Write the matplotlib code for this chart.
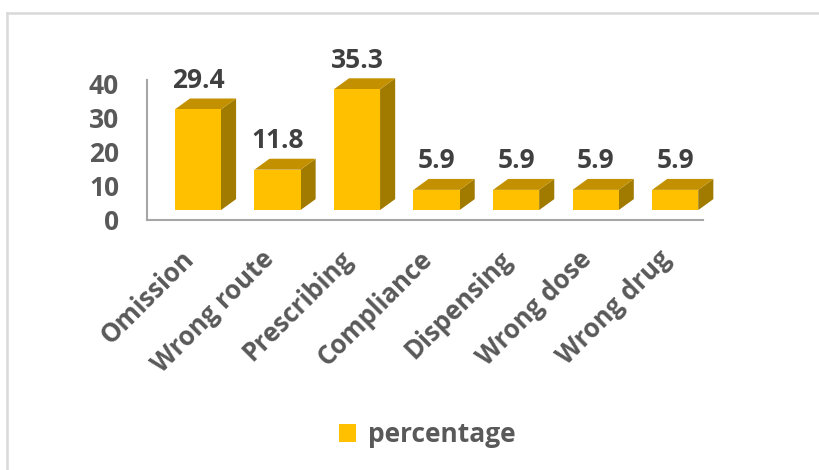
import matplotlib
matplotlib.use("Agg")
import matplotlib.pyplot as plt
from matplotlib.patches import Polygon, Rectangle
from matplotlib.lines import Line2D

plt.rcParams['font.family'] = ['Open Sans', 'DejaVu Sans']

categories = ["Omission", "Wrong route", "Prescribing", "Compliance",
              "Dispensing", "Wrong dose", "Wrong drug"]
percentage = [29.4, 11.8, 35.3, 5.9, 5.9, 5.9, 5.9]
y_ticks = [0, 10, 20, 30, 40]

front_col = "#FFC000"
top_col = "#C39100"
side_col = "#A17A00"

# pseudo-3D box geometry (data units)
bar_w = 0.58
depth_x = 0.19
depth_y = 3.2
floor = 2.9

fig = plt.figure(figsize=(8.2, 4.7), dpi=100)
ax = fig.add_axes([147 / 820, 250 / 470, 556 / 820, 140 / 470])
ax.set_xlim(-0.64, 6.35)
ax.set_ylim(0, 40.9)

for i, v in enumerate(percentage):
    x0 = i - bar_w / 2
    x1 = i + bar_w / 2
    y0 = floor
    y1 = floor + v
    ax.add_patch(Polygon([(x1, y0), (x1 + depth_x, y0 + depth_y),
                          (x1 + depth_x, y1 + depth_y), (x1, y1)],
                         closed=True, fc=side_col, ec="none", clip_on=False))
    ax.add_patch(Polygon([(x0, y1), (x1, y1), (x1 + depth_x, y1 + depth_y),
                          (x0 + depth_x, y1 + depth_y)],
                         closed=True, fc=top_col, ec="none", clip_on=False))
    ax.add_patch(Rectangle((x0, y0), bar_w, v, fc=front_col, ec="none", clip_on=False))
    ax.annotate(f"{v}", xy=(i, y1 + depth_y), xytext=(0, 13),
                textcoords="offset points", ha="center", va="center",
                fontsize=19, fontweight="bold", color="#404040",
                annotation_clip=False)

# category labels, rotated like the spreadsheet axis
for i, name in enumerate(categories):
    ax.text(i - 0.1, -0.25, name, transform=ax.get_xaxis_transform(),
            rotation=45, rotation_mode="anchor", ha="right", va="center",
            fontsize=18.5, fontweight="bold", color="#595959")

ax.set_xticks([])
ax.set_yticks(y_ticks)
ax.set_yticklabels([str(t) for t in y_ticks], fontsize=19, fontweight="bold",
                   color="#595959")
ax.tick_params(axis="y", length=0, pad=20)
for s in ["top", "right"]:
    ax.spines[s].set_visible(False)
for s in ["left", "bottom"]:
    ax.spines[s].set_color("#A6A6A6")
    ax.spines[s].set_linewidth(1.5)

# legend
handle = Rectangle((0, 0), 1, 1, fc=front_col, ec="none")
fig.legend([handle], ["percentage"], loc="center", bbox_to_anchor=(427 / 820, 1 - 435 / 470),
           frameon=False, prop={"size": 19, "weight": "bold"}, handlelength=0.65,
           handleheight=0.65, handletextpad=0.45, labelcolor="#595959")

# chart area frame (top and left edges only)
fig.add_artist(Line2D([7 / 820, 7 / 820], [0, 1 - 12.5 / 470], color="#D9D9D9", lw=1.8))
fig.add_artist(Line2D([7 / 820, 1], [1 - 12.5 / 470, 1 - 12.5 / 470], color="#D9D9D9", lw=1.8))

fig.savefig("out.png", dpi=100)
